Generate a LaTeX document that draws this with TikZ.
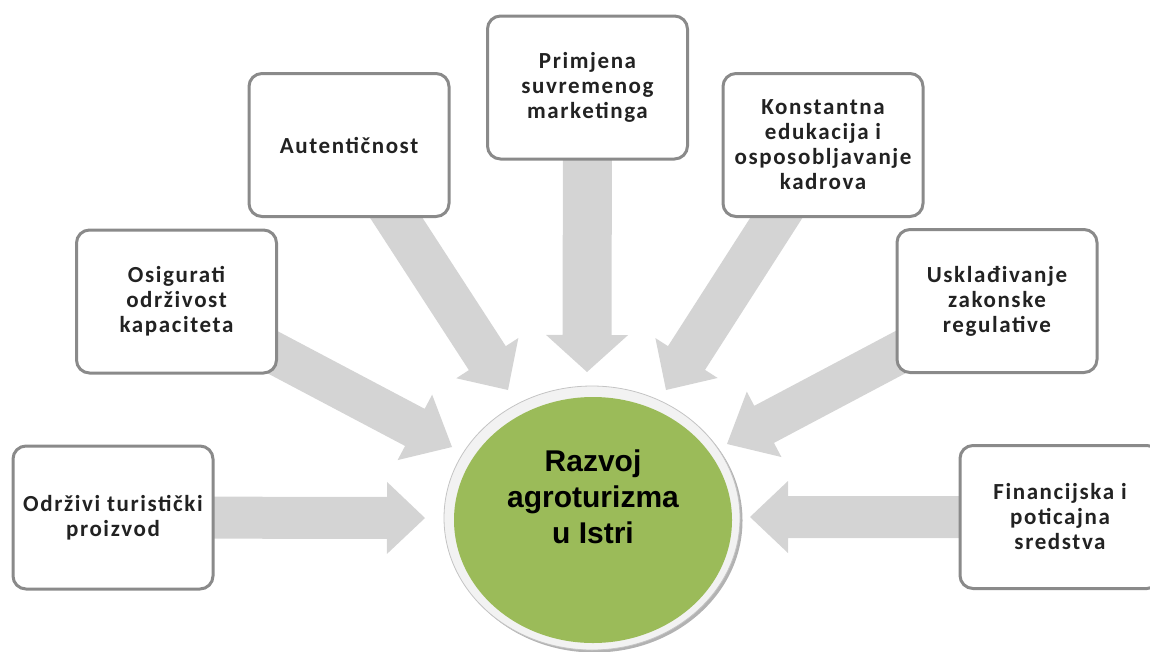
\documentclass[tikz,border=0pt]{standalone}
\usepackage{fontspec}
\newfontfamily\boxfont[LetterSpace=7]{Carlito}
\newfontfamily\circfont{Liberation Sans}
\usetikzlibrary{calc,shapes.geometric}
\pgfdeclarelayer{background}
\pgfsetlayers{background,main}
\definecolor{arrowgray}{HTML}{D4D4D4}
\definecolor{boxborder}{HTML}{8A8A8A}
\definecolor{olivegreen}{HTML}{9BBB59}
\definecolor{ringfill}{HTML}{F2F2F2}
\definecolor{ringedge}{HTML}{C4C4C4}
\definecolor{txtcol}{HTML}{222222}
% #1 start, #2 tip, #3 half shaft, #4 half head, #5 head length
\newcommand{\blockarrow}[5]{%
  \coordinate (bh) at ($(#2)!#5!(#1)$);
  \fill[arrowfill] ($(#1)!#3!90:(#2)$) -- ($(bh)!#3!-90:(#1)$) -- ($(bh)!#4!-90:(#1)$) -- (#2)
    -- ($(bh)!#4!90:(#1)$) -- ($(bh)!#3!90:(#1)$) -- ($(#1)!#3!-90:(#2)$) -- cycle;
}
\begin{document}
\begin{tikzpicture}[x=1pt,y=-1pt,
  stepbox/.style={draw=boxborder, line width=3pt, fill=white, rounded corners=13pt,
    minimum width=200pt, minimum height=143pt, align=center, text=txtcol,
    font=\boxfont\bfseries\fontsize{23pt}{25pt}\selectfont},
  arrowfill/.style={fill=arrowgray}]
\useasboundingbox (0,0) rectangle (1150,651);
\clip (0,0) rectangle (1150,651);

% boxes
\node[stepbox] (b1) at (113,517.5) {Održivi turistički\\proizvod};
\node[stepbox] (b2) at (176.5,301.5) {Osigurati\\održivost\\kapaciteta};
\node[stepbox] (b3) at (349,145) {Autentičnost};
\node[stepbox] (b4) at (587.5,87.5) {Primjena\\suvremenog\\marketinga};
\node[stepbox] (b5) at (823,145) {Konstantna\\edukacija i\\osposobljavanje\\kadrova};
\node[stepbox] (b6) at (997,301) {Usklađivanje\\zakonske\\regulative};
\node[stepbox] (b7) at (1060,517) {Financijska i\\poticajna\\sredstva};

% arrow tips
\coordinate (t1) at (425,518);
\coordinate (t2) at (452,447);
\coordinate (t3) at (508,390);
\coordinate (t4) at (587,372);
\coordinate (t5) at (666,390);
\coordinate (t6) at (727,444);
\coordinate (t7) at (750,517);

\begin{pgfonlayer}{background}
\blockarrow{b1.center}{t1}{21pt}{36pt}{38pt}
\blockarrow{b2.center}{t2}{21pt}{37pt}{42pt}
\blockarrow{b3.center}{t3}{22pt}{37pt}{38pt}
\blockarrow{b4.center}{t4}{24.5pt}{41pt}{37pt}
\blockarrow{b5.center}{t5}{22pt}{37pt}{38pt}
\blockarrow{b6.center}{t6}{21pt}{37pt}{42pt}
\blockarrow{b7.center}{t7}{21pt}{36pt}{38pt}
\end{pgfonlayer}

% central circle
\node[ellipse, fill=gray!60, minimum width=296pt, minimum height=264pt, inner sep=0pt] (shadow) at (594.5,520.5) {};
\node[ellipse, draw=ringedge, line width=0.8pt, fill=ringfill, minimum width=296pt, minimum height=264pt, inner sep=0pt] (ring) at (592,518) {};
\node[ellipse, fill=olivegreen, minimum width=278pt, minimum height=246pt, inner sep=0pt] (core) at (593,520) {};
\node[align=center, text=black, font=\circfont\bfseries\fontsize{30pt}{36pt}\selectfont] (title) at (593,497) {Razvoj\\agroturizma\\u Istri};
\end{tikzpicture}
\end{document}
